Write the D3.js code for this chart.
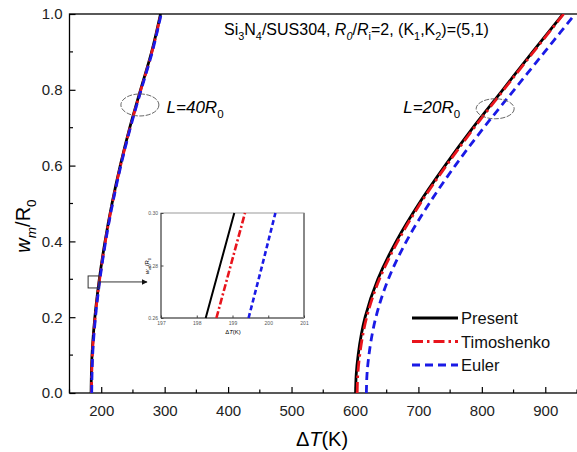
<!DOCTYPE html>
<html>
<head>
<meta charset="utf-8">
<script src="https://cdn.jsdelivr.net/npm/d3@7"></script>
<style>
body { margin: 0; background: #fff; }
text { font-family: "Liberation Sans", Arial, sans-serif; }
</style>
</head>
<body>
<svg id="chart" width="577" height="452"></svg>
<script>
// deflection levels (w_m / R_0)
let wLevels = [0, 0.05, 0.1, 0.2, 0.3, 0.4, 0.5, 0.6, 0.7, 0.8, 0.9, 1.0];

// L = 40 R0
let present40 = [184, 184.5, 185.5, 190, 197, 206, 217, 230, 245, 262, 279.5, 293.5];
let timo40    = [184.5, 185, 186, 190.5, 197.5, 206.5, 217.5, 230.5, 245.5, 262.5, 280, 294];
let euler40   = [185, 185.5, 186.5, 191, 198, 207, 218, 231, 246, 263, 280.5, 294.5];

// L = 20 R0
let present20 = [601, 602, 605, 616, 636, 665, 701, 742, 786, 833, 880, 928];
let timo20    = [603.5, 604.5, 607.5, 618.5, 638.5, 667.5, 703, 744, 788, 834.5, 881.5, 929];
let euler20   = [618, 619, 622, 633, 652.5, 681, 717, 758, 803, 851, 899, 947];

// zoomed inset
let insetW = [0.26, 0.28, 0.30];
let insetPresent = [198.25, 198.65, 199.05];
let insetTimo    = [198.55, 198.95, 199.35];
let insetEuler   = [199.45, 199.83, 200.2];

let xTicks = [200, 300, 400, 500, 600, 700, 800, 900];
let yTicks = [0, 0.2, 0.4, 0.6, 0.8, 1.0];
let insetXTicks = [197, 198, 199, 200, 201];
let insetYTicks = [0.26, 0.28, 0.30];
let legendNames = ["Present", "Timoshenko", "Euler"];

let blackColor = "#000000";
let redColor = "#e8141c";
let blueColor = "#1a1ae6";

let svg = d3.select("#chart");
let plotLeft = 69.5, plotRight = 577, plotTop = 14, plotBottom = 393;

let x = d3.scaleLinear().domain([150, 950]).range([plotLeft, plotRight]);
let y = d3.scaleLinear().domain([0, 1]).range([plotBottom, plotTop]);

svg.append("clipPath").attr("id", "plotClip")
  .append("rect").attr("x", plotLeft).attr("y", plotTop)
  .attr("width", plotRight - plotLeft).attr("height", plotBottom - plotTop);

// rich text helper: segments [text, style] style: "", "i", "s", "is"
function richText(g, xPos, yPos, size, segs, anchor)
{
  let t = g.append("text").attr("x", xPos).attr("y", yPos)
    .attr("font-size", size).attr("text-anchor", anchor || "start");
  let shifted = false;
  segs.forEach(function(s) {
    let sub = s[1].indexOf("s") >= 0;
    let sp = t.append("tspan").text(s[0]);
    if (s[1].indexOf("i") >= 0) sp.attr("font-style", "italic");
    if (sub && !shifted) { sp.attr("dy", size * 0.3).attr("font-size", size * 0.68); shifted = true; }
    else if (sub) { sp.attr("font-size", size * 0.68); }
    else if (shifted) { sp.attr("dy", -size * 0.3); shifted = false; }
  });
  return t;
}

// axes
let xAxis = d3.axisBottom(x).tickValues(xTicks).tickSize(-6).tickPadding(12);
let yAxis = d3.axisLeft(y).tickValues(yTicks).tickSize(-6).tickPadding(7).tickFormat(d3.format(".1f"));

let gx = svg.append("g").attr("transform", "translate(0," + plotBottom + ")").call(xAxis);
let gy = svg.append("g").attr("transform", "translate(" + plotLeft + ",0)").call(yAxis);
[gx, gy].forEach(function(g) {
  g.select(".domain").remove();
  g.selectAll("line").attr("stroke", "#000").attr("stroke-width", 1.2);
  g.selectAll("text").attr("font-size", 15).attr("fill", "#222")
    .attr("font-family", "Liberation Sans, Arial, sans-serif");
});

// minor ticks
svg.append("g").selectAll("line").data(d3.range(150, 951, 100))
  .enter().append("line")
  .attr("x1", d => x(d)).attr("x2", d => x(d))
  .attr("y1", plotBottom).attr("y2", plotBottom - 3.5)
  .attr("stroke", "#000").attr("stroke-width", 1.2);
svg.append("g").selectAll("line").data([0.1, 0.3, 0.5, 0.7, 0.9])
  .enter().append("line")
  .attr("x1", plotLeft).attr("x2", plotLeft + 3.5)
  .attr("y1", d => y(d)).attr("y2", d => y(d))
  .attr("stroke", "#000").attr("stroke-width", 1.2);

// frame
svg.append("rect").attr("x", plotLeft).attr("y", plotTop)
  .attr("width", plotRight - plotLeft + 2).attr("height", plotBottom - plotTop)
  .attr("fill", "none").attr("stroke", "#000").attr("stroke-width", 1.3);

// curves
let line = d3.line().x(d => x(d[0])).y(d => y(d[1])).curve(d3.curveMonotoneY);
let styles = [
  { color: blackColor, dash: null },
  { color: redColor, dash: "11,4,2.5,4" },
  { color: blueColor, dash: "8,5" }
];
let groups = [[present40, timo40, euler40], [present20, timo20, euler20]];
let plot = svg.append("g").attr("clip-path", "url(#plotClip)");
groups.forEach(function(grp) {
  grp.forEach(function(vals, i) {
    let pts = vals.map((v, j) => [v, wLevels[j]]);
    plot.append("path").datum(pts)
      .attr("d", line)
      .attr("fill", "none")
      .attr("stroke", styles[i].color)
      .attr("stroke-width", 2.8)
      .attr("stroke-dasharray", styles[i].dash);
  });
});

// ellipses and curve labels
svg.append("ellipse").attr("cx", x(261)).attr("cy", y(0.76)).attr("rx", 19).attr("ry", 11)
  .attr("fill", "none").attr("stroke", "#555").attr("stroke-width", 0.9).attr("stroke-dasharray", "5,1.5");
svg.append("ellipse").attr("cx", x(821)).attr("cy", y(0.75)).attr("rx", 19).attr("ry", 10)
  .attr("fill", "none").attr("stroke", "#555").attr("stroke-width", 0.9).attr("stroke-dasharray", "5,1.5");
richText(svg, x(303), y(0.739), 17, [["L", "i"], ["=40", "i"], ["R", "i"], ["0", "s"]]);
richText(svg, x(676), y(0.739), 17, [["L", "i"], ["=20", "i"], ["R", "i"], ["0", "s"]]);

// title
richText(svg, 224, 35, 16, [["Si", ""], ["3", "s"], ["N", ""], ["4", "s"], ["/SUS304, ", ""],
  ["R", "i"], ["0", "is"], ["/", ""], ["R", "i"], ["i", "s"], ["=2, (K", ""], ["1", "s"], [",K", ""], ["2", "s"], [")=(5,1)", ""]]);

// axis titles
richText(svg, 322, 446, 20, [["\u0394", ""], ["T", "i"], ["(K)", ""]], "middle");
let yt = svg.append("g").attr("transform", "translate(30,226) rotate(-90)");
richText(yt, 0, 0, 20, [["w", "i"], ["m", "is"], ["/R", ""], ["0", "s"]], "middle");

// legend
let legend = svg.append("g");
legendNames.forEach(function(name, i) {
  let ly = 318 + i * 23.5;
  legend.append("line").attr("x1", 412).attr("x2", 458).attr("y1", ly).attr("y2", ly)
    .attr("stroke", styles[i].color).attr("stroke-width", 2.8)
    .attr("stroke-dasharray", styles[i].dash);
  legend.append("text").attr("x", 461).attr("y", ly + 6).attr("font-size", 16.5)
    .attr("fill", "#111").text(name);
});

// marker box + arrow
let bx = x(188), by = y(0.293);
svg.append("rect").attr("x", bx - 5.5).attr("y", by - 6).attr("width", 11).attr("height", 12)
  .attr("fill", "none").attr("stroke", "#333").attr("stroke-width", 1);
svg.append("defs").append("marker").attr("id", "arr").attr("viewBox", "0 0 10 10")
  .attr("refX", 9).attr("refY", 5).attr("markerWidth", 6).attr("markerHeight", 6)
  .attr("orient", "auto").append("path").attr("d", "M0,0 L10,5 L0,10 z").attr("fill", "#111");
svg.append("line").attr("x1", bx + 5.5).attr("x2", 147).attr("y1", by).attr("y2", by)
  .attr("stroke", "#333").attr("stroke-width", 1).attr("marker-end", "url(#arr)");

// inset
let ix = d3.scaleLinear().domain([197, 201]).range([161, 304]);
let iy = d3.scaleLinear().domain([0.26, 0.30]).range([318, 213]);
let inset = svg.append("g");
inset.append("rect").attr("x", 161).attr("y", 213).attr("width", 143).attr("height", 105)
  .attr("fill", "#fff").attr("stroke", "#999").attr("stroke-width", 1);
inset.append("line").attr("x1", 161).attr("x2", 161).attr("y1", 213).attr("y2", 318).attr("stroke", "#444");
inset.append("line").attr("x1", 161).attr("x2", 304).attr("y1", 318).attr("y2", 318).attr("stroke", "#444");
inset.append("line").attr("x1", 304).attr("x2", 304).attr("y1", 213).attr("y2", 318).attr("stroke", "#888").attr("stroke-width", 2);
let ixAxis = d3.axisBottom(ix).tickValues(insetXTicks).tickSize(-2.5).tickPadding(3).tickFormat(d3.format("d"));
let iyAxis = d3.axisLeft(iy).tickValues(insetYTicks).tickSize(-2.5).tickPadding(3).tickFormat(d3.format(".2f"));
let gix = inset.append("g").attr("transform", "translate(0,318)").call(ixAxis);
let giy = inset.append("g").attr("transform", "translate(161,0)").call(iyAxis);
[gix, giy].forEach(function(g) {
  g.select(".domain").remove();
  g.selectAll("line").attr("stroke", "#444");
  g.selectAll("text").attr("font-size", 5).attr("fill", "#555")
    .attr("font-family", "Liberation Sans, Arial, sans-serif");
});
richText(inset, 233, 334, 6, [["\u0394", ""], ["T", "i"], ["(K)", ""]], "middle");
let iyt = inset.append("g").attr("transform", "translate(149,266) rotate(-90)");
richText(iyt, 0, 0, 6, [["w", "i"], ["m", "is"], ["/R", ""], ["0", "s"]], "middle");

let iline = d3.line().x(d => ix(d[0])).y(d => iy(d[1]));
[insetPresent, insetTimo, insetEuler].forEach(function(vals, i) {
  let pts = vals.map((v, j) => [v, insetW[j]]);
  inset.append("path").datum(pts).attr("d", iline)
    .attr("fill", "none").attr("stroke", styles[i].color)
    .attr("stroke-width", i == 0 ? 2 : 2.6)
    .attr("stroke-dasharray", i == 0 ? null : (i == 1 ? "7,2.5,2,2.5" : "5,3"));
});
</script>
</body>
</html>
